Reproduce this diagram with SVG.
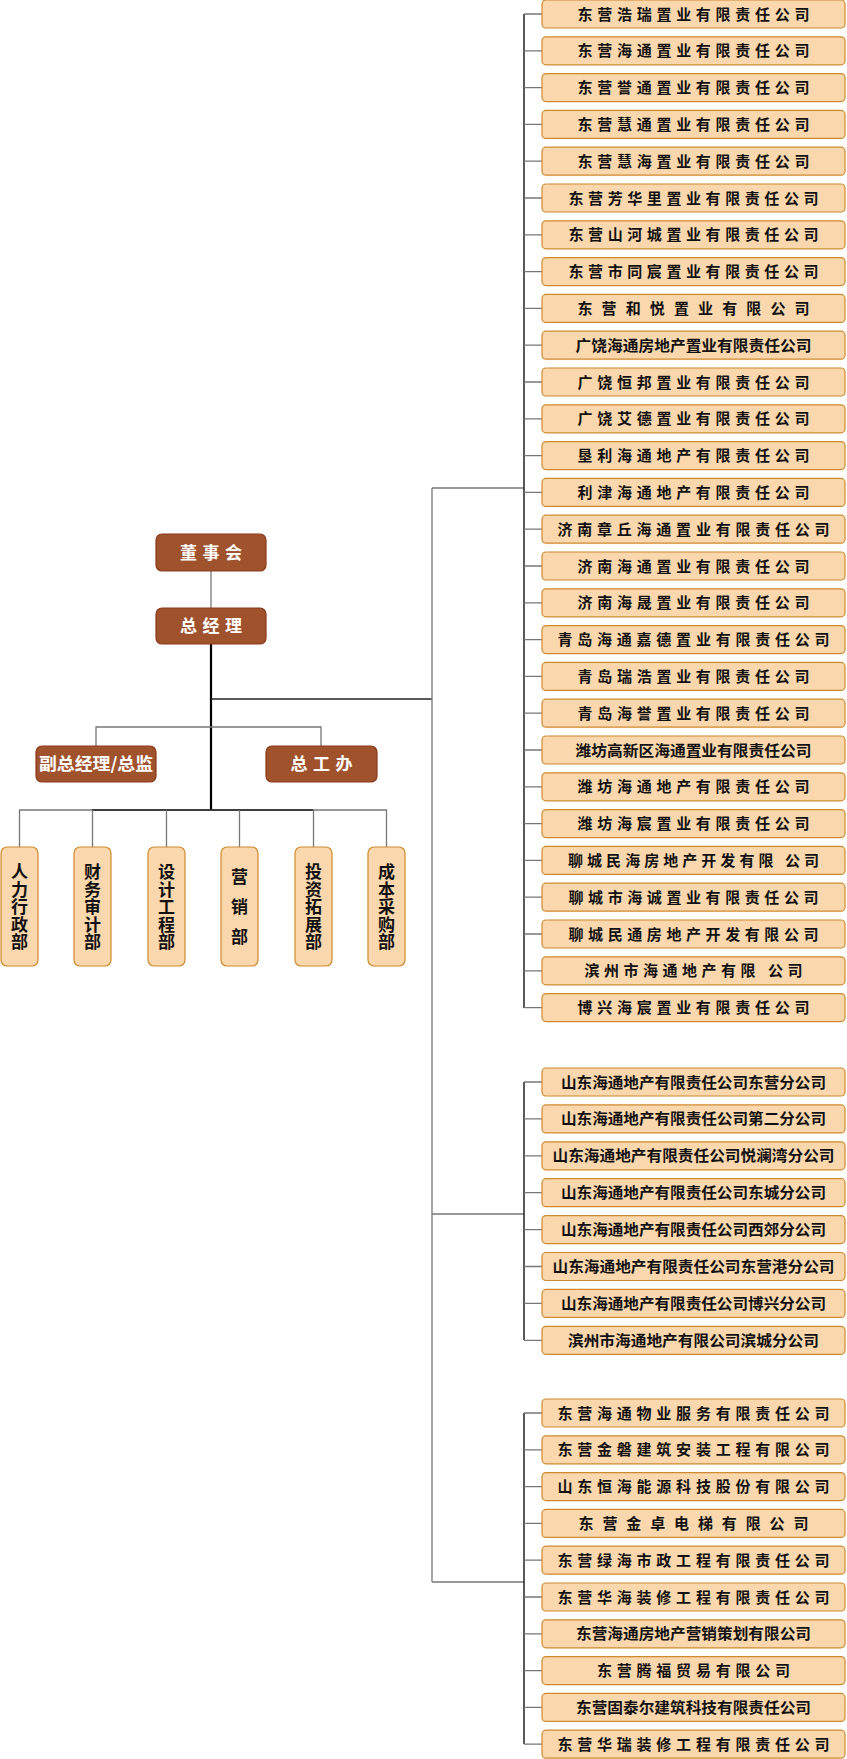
<svg xmlns="http://www.w3.org/2000/svg" width="847" height="1759" viewBox="0 0 847 1759">
<style>
text{font-family:"Noto Sans CJK SC","Liberation Sans",sans-serif;font-weight:bold}
.lb{fill:#FAD7AC;stroke:#D08A2E;stroke-width:1.2}
.db{fill:#A0522D;stroke:#8A3A18;stroke-width:1.2}
.lt{font-size:15px;fill:#111;text-anchor:middle}
.dt{font-size:17px;fill:#fff;text-anchor:middle}
.vt{font-size:17px;fill:#111;text-anchor:middle;writing-mode:vertical-rl;letter-spacing:0.4px}
.g{stroke:#777;stroke-width:1.3;fill:none}
.k{stroke:#222;stroke-width:1.5;fill:none}
.kk{stroke:#000;stroke-width:2.2;fill:none}
</style>
<rect width="847" height="1759" fill="#fff"/>
<g id="connectors">
<line class="g" x1="211" y1="571" x2="211" y2="608"/>
<line class="kk" x1="211" y1="644" x2="211" y2="810"/>
<line class="k" x1="211" y1="699" x2="432" y2="699"/>
<polyline class="g" points="96,746 96,727 321,727 321,746"/>
<line class="g" x1="19" y1="810" x2="387" y2="810"/>
<line class="k" x1="92" y1="810" x2="313" y2="810"/>
<line class="g" x1="19.5" y1="810" x2="19.5" y2="847"/>
<line class="g" x1="92.5" y1="810" x2="92.5" y2="847"/>
<line class="g" x1="166.5" y1="810" x2="166.5" y2="847"/>
<line class="g" x1="239.5" y1="810" x2="239.5" y2="847"/>
<line class="g" x1="313.5" y1="810" x2="313.5" y2="847"/>
<line class="g" x1="386.5" y1="810" x2="386.5" y2="847"/>
<line class="g" x1="432" y1="488" x2="432" y2="1582"/>
<line class="g" x1="432" y1="488" x2="524" y2="488"/>
<line class="g" x1="432" y1="1214" x2="524" y2="1214"/>
<line class="g" x1="432" y1="1582" x2="524" y2="1582"/>
<line class="k" x1="524" y1="14" x2="524" y2="1008"/>
<line class="k" x1="524" y1="1082" x2="524" y2="1340"/>
<line class="k" x1="524" y1="1413" x2="524" y2="1744"/>
<path class="g" d="M524 14H542M524 50.8H542M524 87.6H542M524 124.4H542M524 161.2H542M524 198H542M524 234.8H542M524 271.6H542M524 308.4H542M524 345.2H542M524 382H542M524 418.8H542M524 455.6H542M524 492.4H542M524 529.2H542M524 566H542M524 602.8H542M524 639.6H542M524 676.4H542M524 713.2H542M524 750H542M524 786.8H542M524 823.6H542M524 860.4H542M524 897.2H542M524 934H542M524 970.8H542M524 1007.6H542"/>
<path class="g" d="M524 1082H542M524 1118.9H542M524 1155.8H542M524 1192.7H542M524 1229.6H542M524 1266.5H542M524 1303.4H542M524 1340.3H542"/>
<path class="g" d="M524 1413H542M524 1449.8H542M524 1486.6H542M524 1523.4H542M524 1560.2H542M524 1597H542M524 1633.8H542M524 1670.6H542M524 1707.4H542M524 1744.2H542"/>
</g>
<g id="n-board"><rect class="db" x="156" y="534" width="110" height="37" rx="6"/><text class="dt" x="211" y="558.5" textLength="62" lengthAdjust="spacing">董事会</text></g>
<g id="n-gm"><rect class="db" x="156" y="608" width="110" height="36" rx="6"/><text class="dt" x="211" y="632" textLength="62" lengthAdjust="spacing">总经理</text></g>
<g id="n-vp"><rect class="db" x="36" y="746" width="120" height="36" rx="6"/><text class="dt" x="96" y="770" textLength="114" lengthAdjust="spacingAndGlyphs">副总经理/总监</text></g>
<g id="n-eng"><rect class="db" x="266" y="746" width="111" height="36" rx="6"/><text class="dt" x="321.5" y="770" textLength="62" lengthAdjust="spacing">总工办</text></g>
<g id="d1"><rect class="lb" x="1" y="847" width="37" height="119" rx="6"/><text class="vt" x="19.5" y="907">人力行政部</text></g>
<g id="d2"><rect class="lb" x="74" y="847" width="37" height="119" rx="6"/><text class="vt" x="92.5" y="907">财务审计部</text></g>
<g id="d3"><rect class="lb" x="148" y="847" width="37" height="119" rx="6"/><text class="vt" x="166.5" y="907">设计工程部</text></g>
<g id="d4"><rect class="lb" x="221" y="847" width="37" height="119" rx="6"/><text class="vt" x="239.5" y="913" style="letter-spacing:13px">营销部</text></g>
<g id="d5"><rect class="lb" x="295" y="847" width="37" height="119" rx="6"/><text class="vt" x="313.5" y="907">投资拓展部</text></g>
<g id="d6"><rect class="lb" x="368" y="847" width="37" height="119" rx="6"/><text class="vt" x="386.5" y="907">成本采购部</text></g>
<g id="a1"><rect class="lb" x="542" y="0" width="303" height="28" rx="4"/><text class="lt" x="693.5" y="19.5" textLength="232" lengthAdjust="spacing">东营浩瑞置业有限责任公司</text></g>
<g id="a2"><rect class="lb" x="542" y="36.8" width="303" height="28" rx="4"/><text class="lt" x="693.5" y="56.3" textLength="232" lengthAdjust="spacing">东营海通置业有限责任公司</text></g>
<g id="a3"><rect class="lb" x="542" y="73.6" width="303" height="28" rx="4"/><text class="lt" x="693.5" y="93.1" textLength="232" lengthAdjust="spacing">东营誉通置业有限责任公司</text></g>
<g id="a4"><rect class="lb" x="542" y="110.4" width="303" height="28" rx="4"/><text class="lt" x="693.5" y="129.9" textLength="232" lengthAdjust="spacing">东营慧通置业有限责任公司</text></g>
<g id="a5"><rect class="lb" x="542" y="147.2" width="303" height="28" rx="4"/><text class="lt" x="693.5" y="166.7" textLength="232" lengthAdjust="spacing">东营慧海置业有限责任公司</text></g>
<g id="a6"><rect class="lb" x="542" y="184" width="303" height="28" rx="4"/><text class="lt" x="693.5" y="203.5" textLength="250" lengthAdjust="spacing">东营芳华里置业有限责任公司</text></g>
<g id="a7"><rect class="lb" x="542" y="220.8" width="303" height="28" rx="4"/><text class="lt" x="693.5" y="240.3" textLength="250" lengthAdjust="spacing">东营山河城置业有限责任公司</text></g>
<g id="a8"><rect class="lb" x="542" y="257.6" width="303" height="28" rx="4"/><text class="lt" x="693.5" y="277.1" textLength="250" lengthAdjust="spacing">东营市同宸置业有限责任公司</text></g>
<g id="a9"><rect class="lb" x="542" y="294.4" width="303" height="28" rx="4"/><text class="lt" x="693.5" y="313.9" textLength="232" lengthAdjust="spacing">东营和悦置业有限公司</text></g>
<g id="a10"><rect class="lb" x="542" y="331.2" width="303" height="28" rx="4"/><text class="lt" x="693.5" y="350.7" textLength="236" lengthAdjust="spacingAndGlyphs">广饶海通房地产置业有限责任公司</text></g>
<g id="a11"><rect class="lb" x="542" y="368" width="303" height="28" rx="4"/><text class="lt" x="693.5" y="387.5" textLength="232" lengthAdjust="spacing">广饶恒邦置业有限责任公司</text></g>
<g id="a12"><rect class="lb" x="542" y="404.8" width="303" height="28" rx="4"/><text class="lt" x="693.5" y="424.3" textLength="232" lengthAdjust="spacing">广饶艾德置业有限责任公司</text></g>
<g id="a13"><rect class="lb" x="542" y="441.6" width="303" height="28" rx="4"/><text class="lt" x="693.5" y="461.1" textLength="232" lengthAdjust="spacing">垦利海通地产有限责任公司</text></g>
<g id="a14"><rect class="lb" x="542" y="478.4" width="303" height="28" rx="4"/><text class="lt" x="693.5" y="497.9" textLength="232" lengthAdjust="spacing">利津海通地产有限责任公司</text></g>
<g id="a15"><rect class="lb" x="542" y="515.2" width="303" height="28" rx="4"/><text class="lt" x="693.5" y="534.7" textLength="272" lengthAdjust="spacing">济南章丘海通置业有限责任公司</text></g>
<g id="a16"><rect class="lb" x="542" y="552" width="303" height="28" rx="4"/><text class="lt" x="693.5" y="571.5" textLength="232" lengthAdjust="spacing">济南海通置业有限责任公司</text></g>
<g id="a17"><rect class="lb" x="542" y="588.8" width="303" height="28" rx="4"/><text class="lt" x="693.5" y="608.3" textLength="232" lengthAdjust="spacing">济南海晟置业有限责任公司</text></g>
<g id="a18"><rect class="lb" x="542" y="625.6" width="303" height="28" rx="4"/><text class="lt" x="693.5" y="645.1" textLength="272" lengthAdjust="spacing">青岛海通嘉德置业有限责任公司</text></g>
<g id="a19"><rect class="lb" x="542" y="662.4" width="303" height="28" rx="4"/><text class="lt" x="693.5" y="681.9" textLength="232" lengthAdjust="spacing">青岛瑞浩置业有限责任公司</text></g>
<g id="a20"><rect class="lb" x="542" y="699.2" width="303" height="28" rx="4"/><text class="lt" x="693.5" y="718.7" textLength="232" lengthAdjust="spacing">青岛海誉置业有限责任公司</text></g>
<g id="a21"><rect class="lb" x="542" y="736" width="303" height="28" rx="4"/><text class="lt" x="693.5" y="755.5" textLength="236" lengthAdjust="spacingAndGlyphs">潍坊高新区海通置业有限责任公司</text></g>
<g id="a22"><rect class="lb" x="542" y="772.8" width="303" height="28" rx="4"/><text class="lt" x="693.5" y="792.3" textLength="232" lengthAdjust="spacing">潍坊海通地产有限责任公司</text></g>
<g id="a23"><rect class="lb" x="542" y="809.6" width="303" height="28" rx="4"/><text class="lt" x="693.5" y="829.1" textLength="232" lengthAdjust="spacing">潍坊海宸置业有限责任公司</text></g>
<g id="a24"><rect class="lb" x="542" y="846.4" width="303" height="28" rx="4"/><text class="lt" x="693.5" y="865.9" textLength="251" lengthAdjust="spacing">聊城民海房地产开发有限 公司</text></g>
<g id="a25"><rect class="lb" x="542" y="883.2" width="303" height="28" rx="4"/><text class="lt" x="693.5" y="902.7" textLength="250" lengthAdjust="spacing">聊城市海诚置业有限责任公司</text></g>
<g id="a26"><rect class="lb" x="542" y="920" width="303" height="28" rx="4"/><text class="lt" x="693.5" y="939.5" textLength="250" lengthAdjust="spacing">聊城民通房地产开发有限公司</text></g>
<g id="a27"><rect class="lb" x="542" y="956.8" width="303" height="28" rx="4"/><text class="lt" x="693.5" y="976.3" textLength="218" lengthAdjust="spacing">滨州市海通地产有限 公司</text></g>
<g id="a28"><rect class="lb" x="542" y="993.6" width="303" height="28" rx="4"/><text class="lt" x="693.5" y="1013.1" textLength="232" lengthAdjust="spacing">博兴海宸置业有限责任公司</text></g>
<g id="b1"><rect class="lb" x="542" y="1068" width="303" height="28" rx="4"/><text class="lt" x="693.5" y="1087.5" textLength="265" lengthAdjust="spacingAndGlyphs">山东海通地产有限责任公司东营分公司</text></g>
<g id="b2"><rect class="lb" x="542" y="1104.9" width="303" height="28" rx="4"/><text class="lt" x="693.5" y="1124.4" textLength="265" lengthAdjust="spacingAndGlyphs">山东海通地产有限责任公司第二分公司</text></g>
<g id="b3"><rect class="lb" x="542" y="1141.8" width="303" height="28" rx="4"/><text class="lt" x="693.5" y="1161.3" textLength="282" lengthAdjust="spacingAndGlyphs">山东海通地产有限责任公司悦澜湾分公司</text></g>
<g id="b4"><rect class="lb" x="542" y="1178.7" width="303" height="28" rx="4"/><text class="lt" x="693.5" y="1198.2" textLength="265" lengthAdjust="spacingAndGlyphs">山东海通地产有限责任公司东城分公司</text></g>
<g id="b5"><rect class="lb" x="542" y="1215.6" width="303" height="28" rx="4"/><text class="lt" x="693.5" y="1235.1" textLength="265" lengthAdjust="spacingAndGlyphs">山东海通地产有限责任公司西郊分公司</text></g>
<g id="b6"><rect class="lb" x="542" y="1252.5" width="303" height="28" rx="4"/><text class="lt" x="693.5" y="1272" textLength="282" lengthAdjust="spacingAndGlyphs">山东海通地产有限责任公司东营港分公司</text></g>
<g id="b7"><rect class="lb" x="542" y="1289.4" width="303" height="28" rx="4"/><text class="lt" x="693.5" y="1308.9" textLength="265" lengthAdjust="spacingAndGlyphs">山东海通地产有限责任公司博兴分公司</text></g>
<g id="b8"><rect class="lb" x="542" y="1326.3" width="303" height="28" rx="4"/><text class="lt" x="693.5" y="1345.8" textLength="251" lengthAdjust="spacingAndGlyphs">滨州市海通地产有限公司滨城分公司</text></g>
<g id="c1"><rect class="lb" x="542" y="1399" width="303" height="28" rx="4"/><text class="lt" x="693.5" y="1418.5" textLength="272" lengthAdjust="spacing">东营海通物业服务有限责任公司</text></g>
<g id="c2"><rect class="lb" x="542" y="1435.8" width="303" height="28" rx="4"/><text class="lt" x="693.5" y="1455.3" textLength="272" lengthAdjust="spacing">东营金磐建筑安装工程有限公司</text></g>
<g id="c3"><rect class="lb" x="542" y="1472.6" width="303" height="28" rx="4"/><text class="lt" x="693.5" y="1492.1" textLength="272" lengthAdjust="spacing">山东恒海能源科技股份有限公司</text></g>
<g id="c4"><rect class="lb" x="542" y="1509.4" width="303" height="28" rx="4"/><text class="lt" x="693.5" y="1528.9" textLength="230" lengthAdjust="spacing">东营金卓电梯有限公司</text></g>
<g id="c5"><rect class="lb" x="542" y="1546.2" width="303" height="28" rx="4"/><text class="lt" x="693.5" y="1565.7" textLength="272" lengthAdjust="spacing">东营绿海市政工程有限责任公司</text></g>
<g id="c6"><rect class="lb" x="542" y="1583" width="303" height="28" rx="4"/><text class="lt" x="693.5" y="1602.5" textLength="272" lengthAdjust="spacing">东营华海装修工程有限责任公司</text></g>
<g id="c7"><rect class="lb" x="542" y="1619.8" width="303" height="28" rx="4"/><text class="lt" x="693.5" y="1639.3" textLength="235" lengthAdjust="spacingAndGlyphs">东营海通房地产营销策划有限公司</text></g>
<g id="c8"><rect class="lb" x="542" y="1656.6" width="303" height="28" rx="4"/><text class="lt" x="693.5" y="1676.1" textLength="193" lengthAdjust="spacing">东营腾福贸易有限公司</text></g>
<g id="c9"><rect class="lb" x="542" y="1693.4" width="303" height="28" rx="4"/><text class="lt" x="693.5" y="1712.9" textLength="235" lengthAdjust="spacingAndGlyphs">东营固泰尔建筑科技有限责任公司</text></g>
<g id="c10"><rect class="lb" x="542" y="1730.2" width="303" height="28" rx="4"/><text class="lt" x="693.5" y="1749.7" textLength="272" lengthAdjust="spacing">东营华瑞装修工程有限责任公司</text></g>
</svg>
